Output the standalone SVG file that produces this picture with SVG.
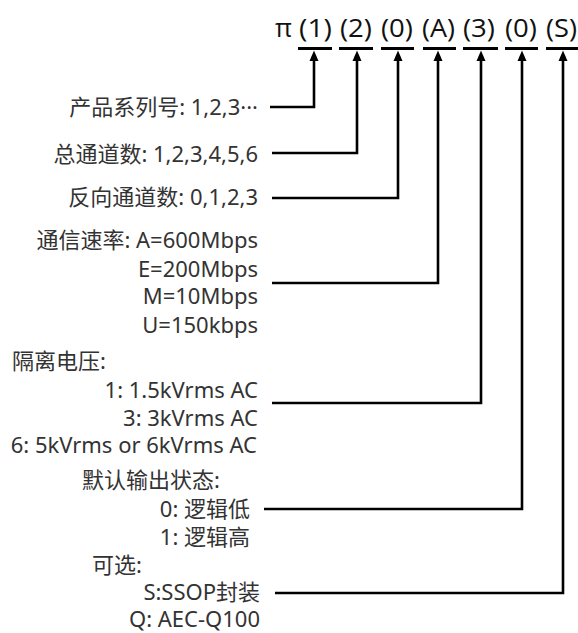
<svg xmlns="http://www.w3.org/2000/svg" width="578" height="633" viewBox="0 0 578 633">
<defs>
<marker id="arr" markerUnits="userSpaceOnUse" markerWidth="11" markerHeight="9" refX="0" refY="4.5" orient="auto" overflow="visible">
<path d="M0,0 L10.5,4.5 L0,9 z" fill="#000"/>
</marker>
</defs>
<style>
.lbl{font-family:"Noto Sans","Noto Sans CJK SC",sans-serif;font-size:22px;fill:#333}
.hd{font-family:"Open Sans","Noto Sans",sans-serif;font-size:26px;fill:#111}
.ul{stroke:#000;stroke-width:3;fill:none}
.cn{stroke:#000;stroke-width:2.6;fill:none;marker-end:url(#arr)}
.e{text-anchor:end}
</style>
<rect width="578" height="633" fill="#fff"/>
<g id="header">
<text class="hd" x="275" y="37">π</text>
<text class="hd" x="299" y="37" textLength="33" lengthAdjust="spacingAndGlyphs">(1)</text>
<text class="hd" x="340" y="37" textLength="32" lengthAdjust="spacingAndGlyphs">(2)</text>
<text class="hd" x="381" y="37" textLength="32" lengthAdjust="spacingAndGlyphs">(0)</text>
<text class="hd" x="422" y="37" textLength="33" lengthAdjust="spacingAndGlyphs">(A)</text>
<text class="hd" x="463" y="37" textLength="32" lengthAdjust="spacingAndGlyphs">(3)</text>
<text class="hd" x="505" y="37" textLength="32" lengthAdjust="spacingAndGlyphs">(0)</text>
<text class="hd" x="546" y="37" textLength="31" lengthAdjust="spacingAndGlyphs">(S)</text>
<line class="ul" x1="298" y1="48.5" x2="332" y2="48.5"/>
<line class="ul" x1="339" y1="48.5" x2="373" y2="48.5"/>
<line class="ul" x1="381" y1="48.5" x2="414" y2="48.5"/>
<line class="ul" x1="423" y1="48.5" x2="456" y2="48.5"/>
<line class="ul" x1="463" y1="48.5" x2="498" y2="48.5"/>
<line class="ul" x1="505" y1="48.5" x2="538" y2="48.5"/>
<line class="ul" x1="546" y1="48.5" x2="578" y2="48.5"/>
</g>
<g id="series"><text class="lbl e" x="258" y="115">产品系列号: 1,2,3···</text></g>
<g id="channels"><text class="lbl e" x="258" y="162">总通道数: 1,2,3,4,5,6</text></g>
<g id="reverse"><text class="lbl e" x="258" y="205">反向通道数: 0,1,2,3</text></g>
<g id="rate">
<text class="lbl e" x="258" y="248">通信速率: A=600Mbps</text>
<text class="lbl e" x="258" y="277">E=200Mbps</text>
<text class="lbl e" x="258" y="304">M=10Mbps</text>
<text class="lbl e" x="258" y="333">U=150kbps</text>
</g>
<g id="isolation">
<text class="lbl" x="12" y="369">隔离电压:</text>
<text class="lbl e" x="258" y="398">1: 1.5kVrms AC</text>
<text class="lbl e" x="258" y="426">3: 3kVrms AC</text>
<text class="lbl e" x="257" y="453">6: 5kVrms or 6kVrms AC</text>
</g>
<g id="default">
<text class="lbl" x="82" y="488">默认输出状态:</text>
<text class="lbl e" x="250" y="517">0: 逻辑低</text>
<text class="lbl e" x="250" y="545">1: 逻辑高</text>
</g>
<g id="optional">
<text class="lbl" x="92" y="573">可选:</text>
<text class="lbl e" x="260" y="600">S:SSOP封装</text>
<text class="lbl e" x="260" y="627">Q: AEC-Q100</text>
</g>
<g id="connectors">
<path class="cn" d="M270,107 H314 V61"/>
<path class="cn" d="M272,153 H357 V61"/>
<path class="cn" d="M272,198 H398 V61"/>
<path class="cn" d="M272,283 H438 V61"/>
<path class="cn" d="M272,403 H481 V61"/>
<path class="cn" d="M264,509 H522 V61"/>
<path class="cn" d="M275,593 H563 V61"/>
</g>
</svg>
